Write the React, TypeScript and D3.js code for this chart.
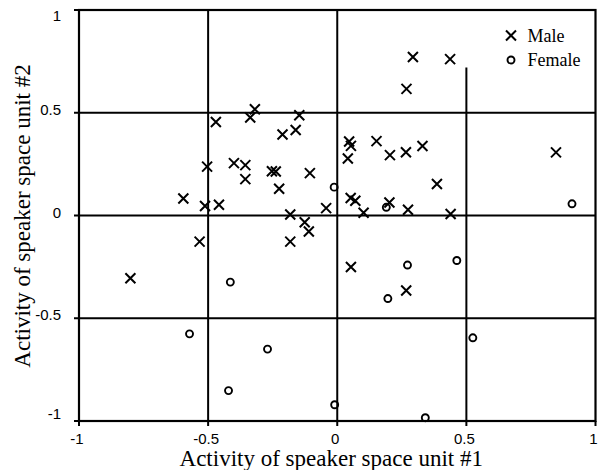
import * as d3 from "d3";

// speaker-space coordinates
const maleX = [-0.47, -0.504, -0.596, -0.512, -0.458, -0.319, -0.337, -0.147, -0.161, -0.212, -0.4, -0.356, -0.356, -0.253, -0.238, -0.106, -0.225, -0.043, -0.182, -0.126, -0.11, -0.182, -0.533, -0.801, 0.268, 0.293, 0.437, 0.046, 0.053, 0.041, 0.152, 0.204, 0.266, 0.33, 0.386, 0.052, 0.07, 0.102, 0.202, 0.274, 0.439, 0.847, 0.053, 0.267];
const maleY = [0.455, 0.238, 0.083, 0.046, 0.052, 0.517, 0.477, 0.488, 0.416, 0.394, 0.255, 0.245, 0.177, 0.215, 0.214, 0.206, 0.13, 0.036, 0.005, -0.033, -0.078, -0.127, -0.127, -0.305, 0.616, 0.771, 0.761, 0.36, 0.339, 0.277, 0.362, 0.294, 0.308, 0.338, 0.153, 0.085, 0.072, 0.013, 0.063, 0.028, 0.007, 0.307, -0.251, -0.365];
const femaleX = [-0.012, 0.19, 0.909, 0.272, 0.463, 0.196, 0.525, -0.01, 0.341, -0.414, -0.572, -0.27, -0.421];
const femaleY = [0.138, 0.04, 0.057, -0.241, -0.219, -0.404, -0.595, -0.921, -0.984, -0.324, -0.576, -0.65, -0.852];

const ticks = [-1, -0.5, 0, 0.5, 1];
const tickLabels = ["-1", "-0.5", "0", "0.5", "1"];
const gridX = [-0.5, 0];
const gridY = [-0.5, 0, 0.5];
const shortLineX = 0.5;
const shortLineTop = 0.72;

const W = 598;
const H = 470;

export default function App() {
  const x = d3.scaleLinear().domain([-1, 1]).range([79, 595.5]);
  const y = d3.scaleLinear().domain([-1, 1]).range([421, 10]);
  const sans = "'Liberation Sans', Arial, sans-serif";
  const serif = "'Liberation Serif', 'Times New Roman', serif";

  const cross = (cx: number, cy: number, k: string) => (
    <path
      key={k}
      d={`M${cx - 5},${cy - 5}L${cx + 5},${cy + 5}M${cx - 5},${cy + 5}L${cx + 5},${cy - 5}`}
      stroke="#000"
      strokeWidth={2}
      fill="none"
    />
  );

  return (
    <svg width={W} height={H} style={{ position: "absolute", left: 0, top: 0, background: "#fff" }}>
      {/* grid */}
      {gridX.map(v => (
        <line key={"gx" + v} x1={x(v)} x2={x(v)} y1={y(-1)} y2={y(1)} stroke="#000" strokeWidth={2} />
      ))}
      <line x1={x(shortLineX)} x2={x(shortLineX)} y1={y(-1)} y2={y(shortLineTop)} stroke="#000" strokeWidth={2} />
      {gridY.map(v => (
        <line key={"gy" + v} x1={x(-1)} x2={x(1)} y1={y(v)} y2={y(v)} stroke="#000" strokeWidth={2} />
      ))}
      <rect x={x(-1)} y={y(1)} width={x(1) - x(-1)} height={y(-1) - y(1)} fill="none" stroke="#000" strokeWidth={2.2} />

      {/* ticks */}
      {ticks.map((v, i) => (
        <g key={"t" + v}>
          <line x1={x(v)} x2={x(v)} y1={y(-1)} y2={y(-1) + 5} stroke="#000" strokeWidth={2} />
          <line x1={x(-1) - 5} x2={x(-1)} y1={y(v)} y2={y(v)} stroke="#000" strokeWidth={2} />
          <text x={x(v) - 2} y={444} textAnchor="middle" fontFamily={sans} fontSize={15}>{tickLabels[i]}</text>
          <text x={61} y={Math.min(Math.max(y(v) + 2, 21), 419)} textAnchor="end" fontFamily={sans} fontSize={15}>{tickLabels[i]}</text>
        </g>
      ))}

      {/* points */}
      {maleX.map((v, i) => cross(x(v), y(maleY[i]), "m" + i))}
      {femaleX.map((v, i) => (
        <circle key={"f" + i} cx={x(v)} cy={y(femaleY[i])} r={3.5} fill="none" stroke="#000" strokeWidth={1.9} />
      ))}

      {/* legend */}
      {cross(511, 35.5, "lm")}
      <circle cx={511} cy={60} r={3.5} fill="none" stroke="#000" strokeWidth={1.9} />
      <text x={527.5} y={41.5} fontFamily={serif} fontSize={18}>Male</text>
      <text x={527.5} y={66} fontFamily={serif} fontSize={18}>Female</text>

      {/* axis titles */}
      <text x={x(0) - 6} y={466} textAnchor="middle" fontFamily={serif} fontSize={23}>Activity of speaker space unit #1</text>
      <text transform={`translate(30,216) rotate(-90)`} textAnchor="middle" fontFamily={serif} fontSize={23}>
        Activity of speaker space unit #2
      </text>
    </svg>
  );
}
